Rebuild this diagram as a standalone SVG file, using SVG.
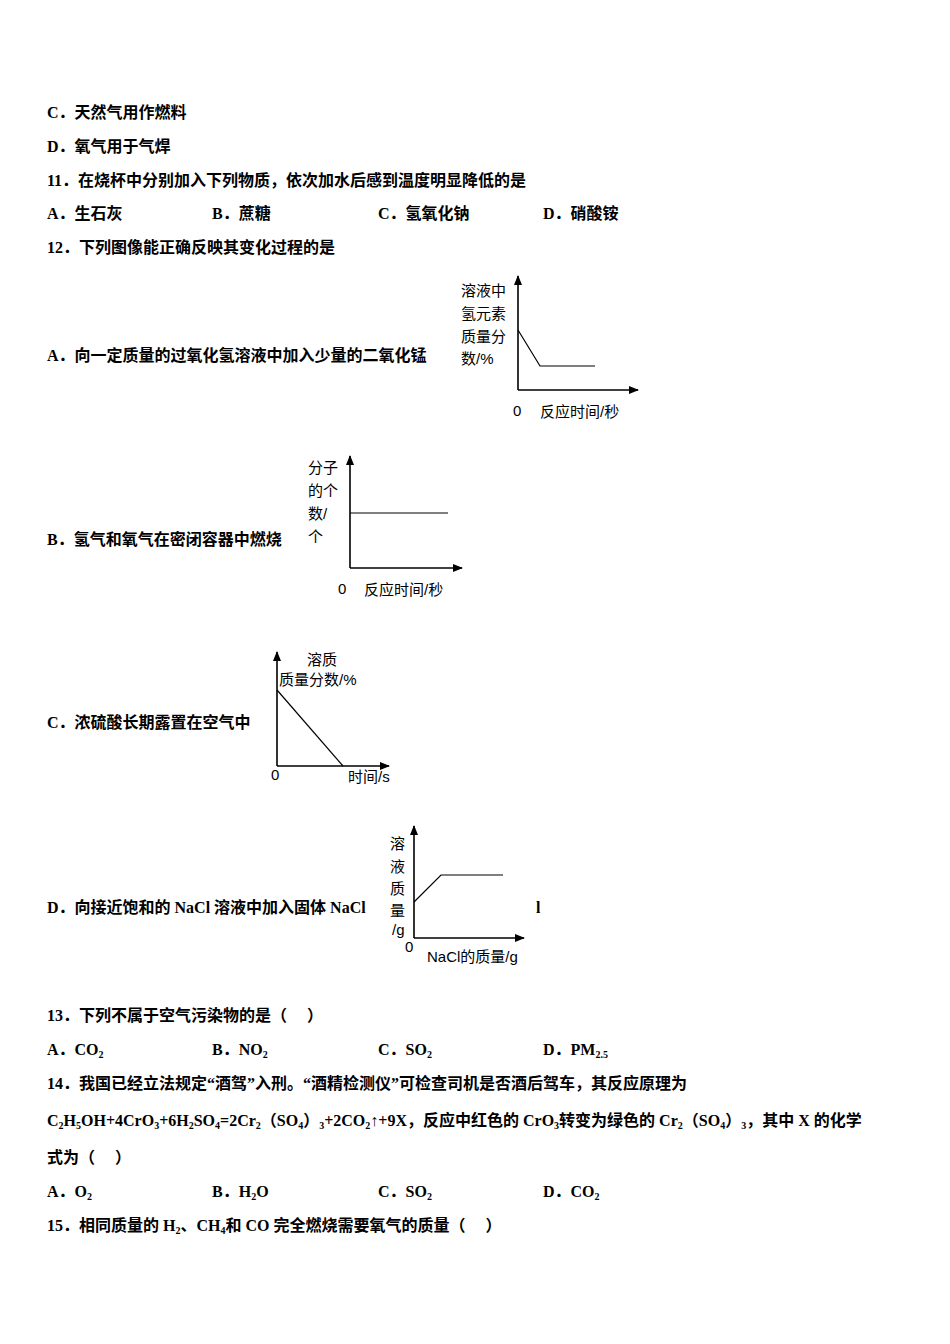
<svg xmlns="http://www.w3.org/2000/svg" width="950" height="1344" viewBox="0 0 950 1344">
<style>
.q{font-family:"Liberation Serif","Noto Sans CJK SC",serif;font-size:16px;font-weight:bold;fill:#000}
.g{font-family:"Liberation Sans","Noto Sans CJK SC",sans-serif;font-size:15px;fill:#000}
.ax{stroke:#000;stroke-width:1.6;fill:none}
.ln{stroke:#000;stroke-width:1.2;fill:none}
.s{font-size:10px}
</style>
<defs><marker id="ar" markerWidth="10" markerHeight="8" refX="9" refY="4" orient="auto" markerUnits="userSpaceOnUse"><path d="M0,0L10,4L0,8z" fill="#000"/></marker></defs>
<rect width="950" height="1344" fill="#fff"/>
<text class="q" x="47" y="118">C．天然气用作燃料</text>
<text class="q" x="47" y="152">D．氧气用于气焊</text>
<text class="q" x="47" y="186">11．在烧杯中分别加入下列物质，依次加水后感到温度明显降低的是</text>
<text class="q" x="47" y="219">A．生石灰</text><text class="q" x="212" y="219">B．蔗糖</text><text class="q" x="378" y="219">C．氢氧化钠</text><text class="q" x="543" y="219">D．硝酸铵</text>
<text class="q" x="47" y="253">12．下列图像能正确反映其变化过程的是</text>
<text class="q" x="47" y="361">A．向一定质量的过氧化氢溶液中加入少量的二氧化锰</text>
<g id="graphA">
<path class="ax" d="M518,390V276" marker-end="url(#ar)"/><path class="ax" d="M518,390H638" marker-end="url(#ar)"/>
<path class="ln" d="M518,330L540,366H595"/>
<text class="g" x="461" y="296">溶液中</text><text class="g" x="461" y="319">氢元素</text><text class="g" x="461" y="342">质量分</text><text class="g" x="461" y="364">数/%</text>
<text class="g" x="513" y="416">0</text><text class="g" x="540" y="417">反应时间/秒</text>
</g>
<text class="q" x="47" y="545">B．氢气和氧气在密闭容器中燃烧</text>
<g id="graphB">
<path class="ax" d="M350,568V456" marker-end="url(#ar)"/><path class="ax" d="M350,568H462" marker-end="url(#ar)"/>
<path class="ln" d="M350,513H448"/>
<text class="g" x="308" y="473">分子</text><text class="g" x="308" y="496">的个</text><text class="g" x="308" y="519">数/</text><text class="g" x="308" y="542">个</text>
<text class="g" x="338" y="594">0</text><text class="g" x="364" y="595">反应时间/秒</text>
</g>
<text class="q" x="47" y="728">C．浓硫酸长期露置在空气中</text>
<g id="graphC">
<path class="ax" d="M277,766V652" marker-end="url(#ar)"/><path class="ax" d="M277,766H389" marker-end="url(#ar)"/>
<path class="ln" d="M277,690L343,766"/>
<text class="g" x="307" y="665">溶质</text><text class="g" x="279" y="685">质量分数/%</text>
<text class="g" x="271" y="780">0</text><text class="g" x="348" y="782">时间/s</text>
</g>
<text class="q" x="47" y="913">D．向接近饱和的 NaCl 溶液中加入固体 NaCl</text>
<text class="q" x="536" y="913">l</text>
<g id="graphD">
<path class="ax" d="M414,938V826" marker-end="url(#ar)"/><path class="ax" d="M414,938H524" marker-end="url(#ar)"/>
<path class="ln" d="M414,902L441,875H503"/>
<text class="g" x="390" y="849">溶</text><text class="g" x="390" y="872">液</text><text class="g" x="390" y="894">质</text><text class="g" x="390" y="916">量</text><text class="g" x="392" y="935">/g</text>
<text class="g" x="405" y="952">0</text><text class="g" x="427" y="962">NaCl的质量/g</text>
</g>
<text class="q" x="47" y="1021">13．下列不属于空气污染物的是（　 ）</text>
<text class="q" x="47" y="1055">A．CO<tspan class="s" dy="3">2</tspan></text>
<text class="q" x="212" y="1055">B．NO<tspan class="s" dy="3">2</tspan></text>
<text class="q" x="378" y="1055">C．SO<tspan class="s" dy="3">2</tspan></text>
<text class="q" x="543" y="1055">D．PM<tspan class="s" dy="3">2.5</tspan></text>
<text class="q" x="47" y="1089">14．我国已经立法规定“酒驾”入刑。“酒精检测仪”可检查司机是否酒后驾车，其反应原理为</text>
<text class="q" x="47" y="1126">C<tspan class="s" dy="3">2</tspan><tspan dy="-3">H</tspan><tspan class="s" dy="3">5</tspan><tspan dy="-3">OH+4CrO</tspan><tspan class="s" dy="3">3</tspan><tspan dy="-3">+6H</tspan><tspan class="s" dy="3">2</tspan><tspan dy="-3">SO</tspan><tspan class="s" dy="3">4</tspan><tspan dy="-3">=2Cr</tspan><tspan class="s" dy="3">2</tspan><tspan dy="-3">（SO</tspan><tspan class="s" dy="3">4</tspan><tspan dy="-3">）</tspan><tspan class="s" dy="3">3</tspan><tspan dy="-3">+2CO</tspan><tspan class="s" dy="3">2</tspan><tspan dy="-3">↑+9X，反应中红色的 CrO</tspan><tspan class="s" dy="3">3</tspan><tspan dy="-3">转变为绿色的 Cr</tspan><tspan class="s" dy="3">2</tspan><tspan dy="-3">（SO</tspan><tspan class="s" dy="3">4</tspan><tspan dy="-3">）</tspan><tspan class="s" dy="3">3</tspan><tspan dy="-3">，其中 X 的化学</tspan></text>
<text class="q" x="47" y="1163">式为（　 ）</text>
<text class="q" x="47" y="1197">A．O<tspan class="s" dy="3">2</tspan></text>
<text class="q" x="212" y="1197">B．H<tspan class="s" dy="3">2</tspan><tspan dy="-3">O</tspan></text>
<text class="q" x="378" y="1197">C．SO<tspan class="s" dy="3">2</tspan></text>
<text class="q" x="543" y="1197">D．CO<tspan class="s" dy="3">2</tspan></text>
<text class="q" x="47" y="1231">15．相同质量的 H<tspan class="s" dy="3">2</tspan><tspan dy="-3">、CH</tspan><tspan class="s" dy="3">4</tspan><tspan dy="-3">和 CO 完全燃烧需要氧气的质量（　 ）</tspan></text>
</svg>
